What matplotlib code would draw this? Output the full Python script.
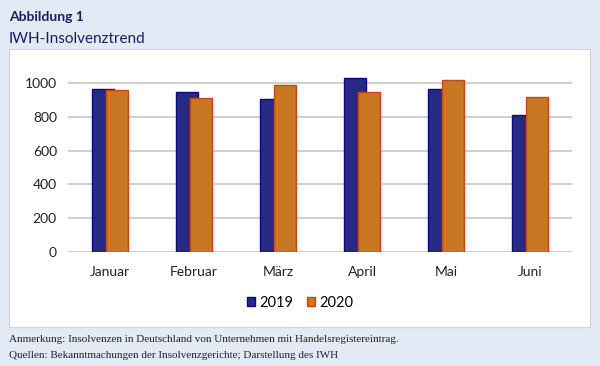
import numpy as np
import matplotlib.pyplot as plt
from matplotlib.patches import Rectangle

months = ['Januar', 'Februar', 'März', 'April', 'Mai', 'Juni']
vals_2019 = [966, 949, 903, 1028, 963, 812]
vals_2020 = [960, 909, 986, 945, 1016, 917]
yticks = [0, 200, 400, 600, 800, 1000]

W, H = 600, 366
fig = plt.figure(figsize=(6, 3.66), dpi=100)
fig.patch.set_facecolor('#e3eaf6')

# white chart panel, behind the axes
fig.patches.append(Rectangle((9 / W, 1 - 327 / H), 581 / W, 278 / H,
                             transform=fig.transFigure, facecolor='white',
                             edgecolor='#cfd6e2', lw=0.8, zorder=-5))

fig.text(9 / W, 1 - 17 / H, 'Abbildung 1', fontsize=10, fontweight='bold',
         color='#1b1f5e', family='Lato', va='center')
fig.text(9 / W, 1 - 39 / H, 'IWH-Insolvenztrend', fontsize=11,
         color='#1b1f5e', family='Lato', va='center')

ax = fig.add_axes([68 / W, 114 / H, 504 / W, 186 / H])
ax.set_facecolor('none')
x = np.arange(len(months))
bw = 0.26
ax.bar(x - 0.08, vals_2019, width=bw, color='#262a85', edgecolor='#0a0a78',
       lw=1, label='2019', zorder=2)
ax.bar(x + 0.08, vals_2020, width=bw, color='#c87822', edgecolor='#c2461a',
       lw=1, label='2020', zorder=3)

ax.set_xlim(-0.5, len(months) - 0.5)
ax.set_ylim(0, 1100)
ax.set_yticks(yticks)
ax.set_xticks(x)
ax.set_xticklabels(months, family='Lato', fontsize=10, color='#222222')
ax.set_yticklabels([str(v) for v in yticks], family='Lato', fontsize=10,
                   color='#222222')
ax.tick_params(length=0, pad=8)
ax.tick_params(axis='x', pad=10)
ax.grid(axis='y', color='#cccccc', lw=1.3, zorder=0)
ax.set_axisbelow(True)
for s in ax.spines.values():
    s.set_visible(False)

ax.legend(loc='center', bbox_to_anchor=(0.5, 1 - 303 / H), bbox_transform=fig.transFigure,
          ncol=2, frameon=False, handlelength=0.55, handleheight=0.55,
          handletextpad=0.3, columnspacing=0.9,
          prop={'family': 'Lato', 'size': 10.5})

fig.text(9 / W, 1 - 339 / H,
         'Anmerkung: Insolvenzen in Deutschland von Unternehmen mit Handelsregistereintrag.',
         fontsize=8, family='Liberation Serif', color='#222222', va='center')
fig.text(9 / W, 1 - 355 / H,
         'Quellen: Bekanntmachungen der Insolvenzgerichte; Darstellung des IWH',
         fontsize=8, family='Liberation Serif', color='#222222', va='center')

fig.savefig('out.png', dpi=100, facecolor=fig.get_facecolor())
